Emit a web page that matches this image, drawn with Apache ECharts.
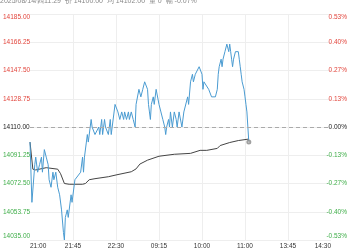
<!DOCTYPE html>
<html><head><meta charset="utf-8">
<script src="https://cdn.jsdelivr.net/npm/echarts@6/dist/echarts.min.js"></script>
<style>html,body{margin:0;padding:0;background:#fff}#c{width:350px;height:250px}</style>
</head><body><div id="c"></div>
<script>
const headerText = '2025/08/14/四11:29  价 14100.00  均 14102.00  量 0  幅 -0.07%';
const prevClose = 14110;
const yMin = 14035, yMax = 14185, yStep = 18.75;
const tickLabels = ['21:00','21:45','22:30','09:15','10:00','11:00','13:45','14:30'];
const tickStep = 45;
const xMax = 315;

const priceMinutes = [0,2,5,6,8,10,12,13,15,17,19,20,22,24,25,27,29,31,33,35,36,37,39,40,43,44,47,49,53,55,56,57,59,60,61,63,64,65,67,68,70,72,73,75,76,78,79,81,82,84,85,87,89,91,92,94,96,98,99,101,103,104,106,108,110,111,113,114,116,117,118,120,122,123,124,125,126,127,129,130,132,134,135,137,139,141,142,143,145,146,147,149,151,153,154,156,158,159,161,163,165,166,168,170,171,173,175,177,178,180,181,182,184,187,189,190,192,194,196,197,198,200,201,202,203,204,206,207,208,209,210,211,212,213,214,215,217,218,219,220,221,222,223,224,225,226,227,228,229];
const prices = [14100,14060,14085,14090,14080,14085,14090,14080,14095,14090,14085,14075,14070,14080,14075,14080,14070,14065,14055,14040,14035,14050,14055,14050,14065,14060,14075,14075,14080,14090,14080,14090,14100,14105,14100,14110,14115,14110,14110,14105,14105,14110,14105,14115,14105,14115,14110,14110,14105,14115,14105,14105,14125,14125,14120,14115,14120,14115,14120,14115,14120,14115,14120,14115,14110,14125,14125,14135,14130,14130,14135,14140,14140,14135,14125,14120,14115,14125,14130,14125,14135,14135,14125,14120,14115,14110,14105,14110,14115,14110,14120,14110,14120,14115,14110,14120,14120,14110,14120,14120,14130,14125,14140,14145,14140,14145,14145,14150,14150,14145,14135,14140,14140,14135,14135,14130,14130,14130,14135,14145,14150,14155,14150,14155,14155,14160,14165,14165,14160,14165,14160,14155,14150,14155,14155,14160,14160,14160,14155,14150,14145,14140,14140,14135,14130,14125,14120,14110,14100];

const avgMinutes = [0,3,6,17,29,32,36,41,55,58,62,68,82,91,106,111,115,123,135,151,168,178,185,196,199,209,218,229];
const avgPrices = [14100,14082,14081.5,14083,14082,14079,14072.5,14072,14072,14072.5,14075,14075.7,14077,14078.3,14080.3,14082.2,14085.4,14088,14090.6,14091.9,14092.5,14094.5,14094.5,14095.8,14097.7,14099.7,14101,14102];

const chart = echarts.init(document.getElementById('c'));
const priceData = priceMinutes.map((m, i) => [m, prices[i]]);
const avgData = avgMinutes.map((m, i) => [m, avgPrices[i]]);
const lastPoint = [priceMinutes[priceMinutes.length - 1], prices[prices.length - 1]];

function tone(v) {
  if (Math.abs(v - prevClose) < 1e-6) return 'z';
  return v > prevClose ? 'u' : 'd';
}
const rich = {
  u: { color: '#e2453c', fontSize: 6.5, fontFamily: 'Liberation Sans' },
  d: { color: '#3fae49', fontSize: 6.5, fontFamily: 'Liberation Sans' },
  z: { color: '#222', fontSize: 6.5, fontFamily: 'Liberation Sans' }
};

chart.setOption({
  animation: false,
  backgroundColor: '#fff',
  graphic: [{
    type: 'text', left: 0, top: -2,
    style: { text: headerText, fontSize: 7, fill: '#888', fontFamily: 'Liberation Sans' }
  }],
  grid: { left: 27, right: 17, top: 14, bottom: 5, containLabel: false },
  xAxis: {
    type: 'value', min: 0, max: xMax, interval: tickStep,
    axisLine: { show: false }, axisTick: { show: false },
    axisLabel: {
      margin: 3, fontSize: 6.5, color: '#333', fontFamily: 'Liberation Sans',
      alignMinLabel: 'left', alignMaxLabel: 'right',
      formatter: v => tickLabels[Math.round(v / tickStep)] || ''
    },
    splitLine: { show: true, showMinLine: false, showMaxLine: false, lineStyle: { color: '#eeeeee', width: 1 } }
  },
  yAxis: [{
    type: 'value', min: yMin, max: yMax, interval: yStep, position: 'left',
    axisLine: { show: false }, axisTick: { show: false },
    axisLabel: {
      margin: 27, align: 'left',
      verticalAlignMaxLabel: 'top', verticalAlignMinLabel: 'bottom',
      formatter: v => '{' + tone(v) + '|' + v.toFixed(2) + '}', rich
    },
    splitLine: { show: true, lineStyle: { color: '#eeeeee', width: 1 } }
  }, {
    type: 'value', min: yMin, max: yMax, interval: yStep, position: 'right',
    axisLine: { show: false }, axisTick: { show: false },
    axisLabel: {
      margin: 16, align: 'right',
      verticalAlignMaxLabel: 'top', verticalAlignMinLabel: 'bottom',
      formatter: v => '{' + tone(v) + '|' + ((v - prevClose) / prevClose * 100).toFixed(2) + '%}', rich
    },
    splitLine: { show: false }
  }],
  series: [{
    type: 'line', data: priceData, showSymbol: false, z: 3,
    lineStyle: { color: '#4a9bd1', width: 1 }, itemStyle: { color: '#4a9bd1' },
    markLine: {
      silent: true, symbol: 'none', label: { show: false },
      lineStyle: { color: '#aaaaaa', type: [4, 3], width: 1 },
      data: [{ yAxis: prevClose }]
    }
  }, {
    type: 'line', data: avgData, showSymbol: false, z: 2,
    lineStyle: { color: '#444', width: 1 }, itemStyle: { color: '#444' }
  }, {
    type: 'scatter', data: [lastPoint], symbol: 'emptyCircle', symbolSize: 3, z: 4,
    itemStyle: { color: '#888', borderWidth: 1 }
  }]
});
</script></body></html>
